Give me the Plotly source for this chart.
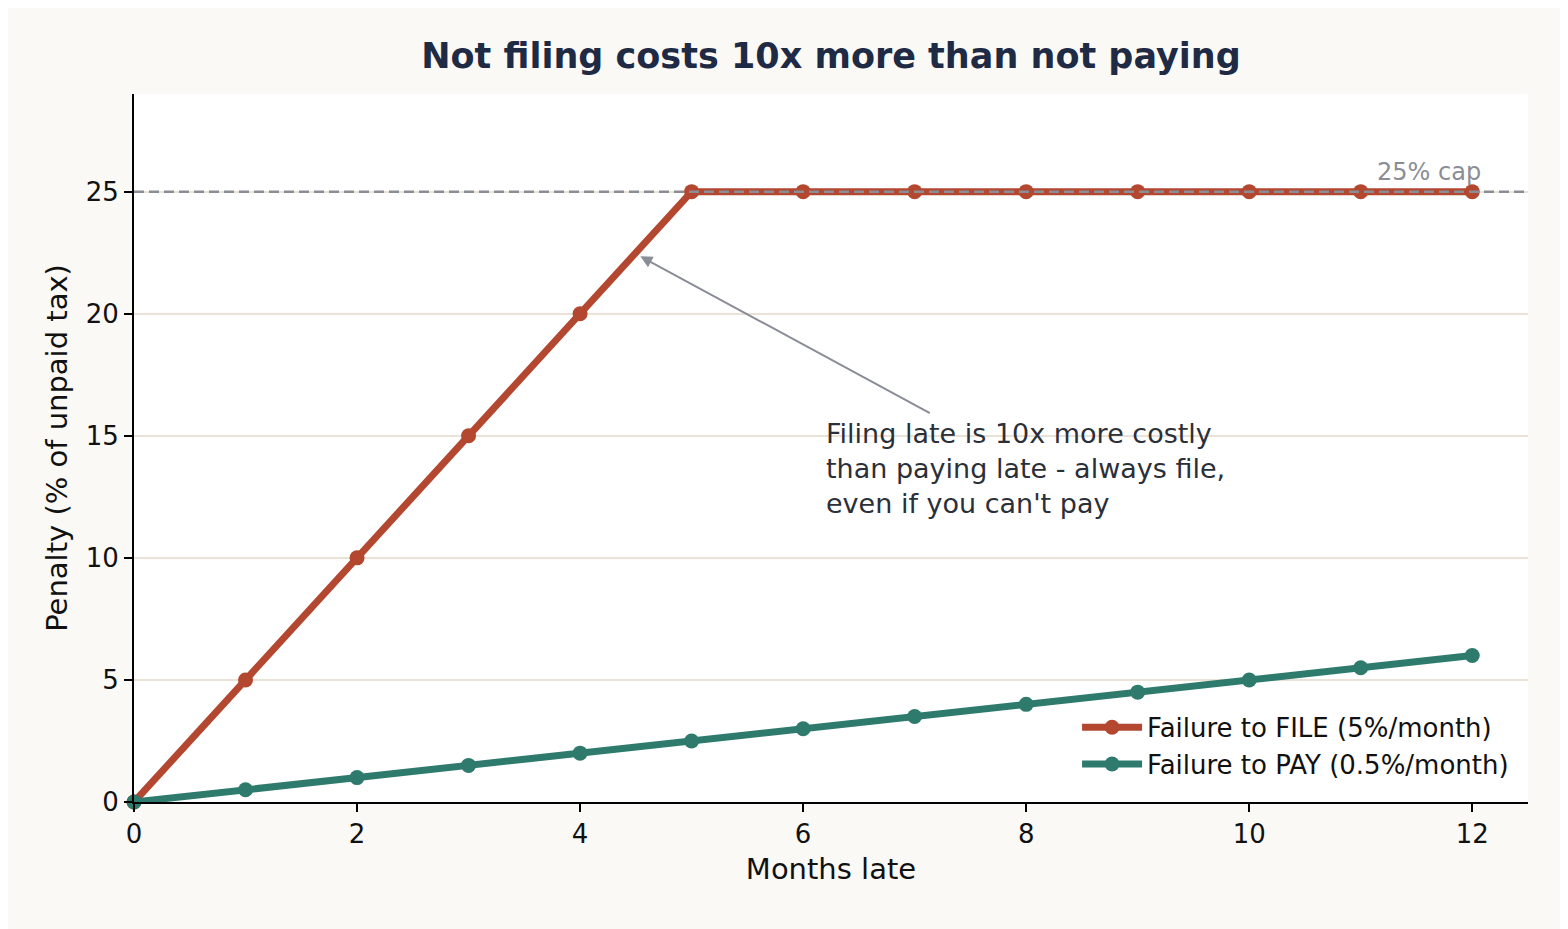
import plotly.graph_objects as go

# data ---------------------------------------------------------------
months = [0, 1, 2, 3, 4, 5, 6, 7, 8, 9, 10, 11, 12]
file_penalty = [0, 5, 10, 15, 20, 25, 25, 25, 25, 25, 25, 25, 25]
pay_penalty = [0, 0.5, 1, 1.5, 2, 2.5, 3, 3.5, 4, 4.5, 5, 5.5, 6]
cap = 25

x_ticks = [0, 2, 4, 6, 8, 10, 12]
y_ticks = [0, 5, 10, 15, 20, 25]

RED = "#B3472F"
TEAL = "#2E7B6E"
GREY = "#8A8D96"
FONT = "DejaVu Sans"

fig = go.Figure()

fig.add_trace(go.Scatter(
    x=months, y=file_penalty, mode="lines+markers",
    name="Failure to FILE (5%/month)",
    line=dict(color=RED, width=7),
    marker=dict(color=RED, size=15),
    cliponaxis=False,
))
fig.add_trace(go.Scatter(
    x=months, y=pay_penalty, mode="lines+markers",
    name="Failure to PAY (0.5%/month)",
    line=dict(color=TEAL, width=7),
    marker=dict(color=TEAL, size=15),
    cliponaxis=False,
))

# 25% cap line
fig.add_shape(type="line", xref="paper", yref="y", x0=0, x1=1, y0=cap, y1=cap,
              line=dict(color=GREY, width=2.5, dash="10px,5px"), layer="above")
fig.add_annotation(x=12.1, y=cap, xref="x", yref="y", text="25% cap",
                   showarrow=False, xanchor="right", yanchor="bottom", yshift=4,
                   font=dict(family=FONT, size=24, color=GREY))

# callout
fig.add_annotation(x=4.54, y=22.35, ax=7.15, ay=15.9, xref="x", yref="y",
                   axref="x", ayref="y", text="", showarrow=True,
                   arrowhead=2, arrowsize=1.2, arrowwidth=2, arrowcolor=GREY)
fig.add_annotation(x=6.19, y=15.8, xref="x", yref="y",
                   text="Filing late is 10x more costly<br>than paying late - always file,<br>even if you can't pay",
                   showarrow=False, xanchor="left", yanchor="top", align="left",
                   font=dict(family=FONT, size=27, color="#2B2F38"))

fig.update_layout(
    width=1560, height=921,
    paper_bgcolor="#FAF9F6", plot_bgcolor="#FFFFFF",
    margin=dict(l=126, r=40, t=86, b=127),
    font=dict(family=FONT, size=24, color="#111111"),
    title=dict(text="<b>Not filing costs 10x more than not paying</b>",
               x=0.5, xref="paper", xanchor="center", y=0.948, yanchor="middle",
               font=dict(family=FONT, size=35, color="#1F2A44")),
    xaxis=dict(range=[0, 12.5], tickvals=x_ticks, showgrid=False, zeroline=False,
               showline=True, linecolor="#000000", linewidth=2,
               ticks="outside", ticklen=8, tickwidth=2, tickcolor="#000000",
               tickfont=dict(size=26),
               title=dict(text="Months late", standoff=10)),
    yaxis=dict(range=[0, 29], tickvals=y_ticks, showgrid=True, gridcolor="#EAE2D6",
               gridwidth=1.5, zeroline=False,
               showline=True, linecolor="#000000", linewidth=2,
               ticks="outside", ticklen=8, tickwidth=2, tickcolor="#000000",
               tickfont=dict(size=26),
               title=dict(text="Penalty (% of unpaid tax)", standoff=10)),
    legend=dict(x=0.99, y=0.02, xanchor="right", yanchor="bottom",
                bgcolor="rgba(255,255,255,0.9)", borderwidth=0,
                itemwidth=60, font=dict(family=FONT, size=26)),
)

fig.write_html("out.html")
